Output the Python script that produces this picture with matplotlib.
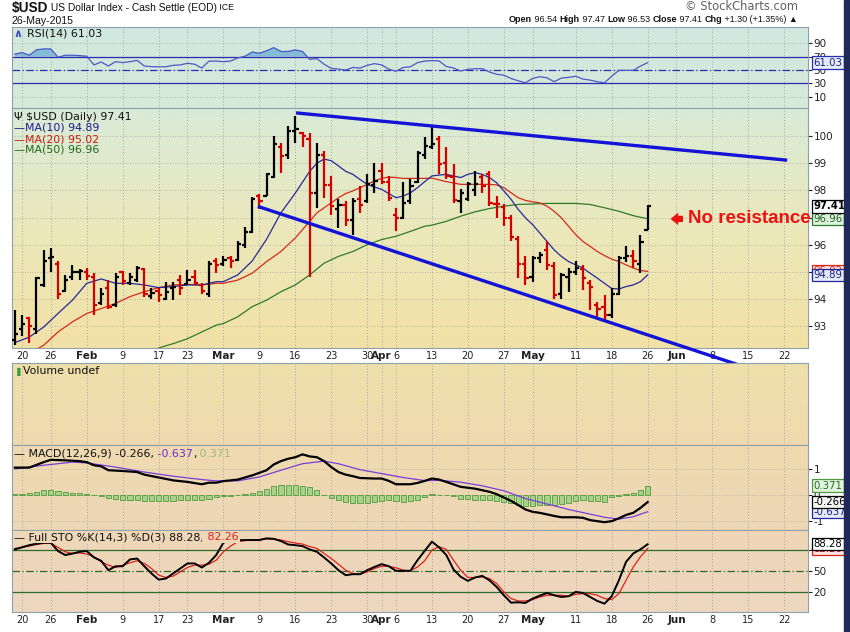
import numpy as np
import pandas as pd
import matplotlib
matplotlib.use("Agg")
import matplotlib.pyplot as plt
from matplotlib.patches import Rectangle

# ---------------- DATA ----------------
start_date = "2015-01-16"
end_date = "2015-06-26"
holidays = ["2015-01-19", "2015-02-16", "2015-04-03", "2015-05-25"]

opens = [92.5, 92.9, 93.3, 92.9, 94.5, 95.5, 95.3, 94.3, 94.8, 95.0,
         95.0, 94.8, 93.85, 94.4, 93.8, 95.0, 94.6, 94.7, 95.1, 94.1,
         94.3, 94.0, 94.4, 94.7, 94.55, 94.8, 94.5, 94.2, 95.4, 95.3,
         95.5, 95.45, 96.0, 96.45, 97.8, 97.8, 98.5, 99.6, 99.3, 100.2,
         100.1, 99.9, 97.9, 99.3, 98.2, 97.3, 97.45, 96.9, 97.7, 97.6,
         98.2, 98.7, 98.3, 97.1, 97.0, 97.6, 98.3, 99.3, 99.6, 99.9,
         99.0, 98.5, 97.6, 97.7, 98.0, 98.5, 98.6, 97.5, 97.4, 97.0,
         96.2, 95.3, 94.8, 95.5, 95.8, 95.2, 94.2, 94.8, 95.0, 95.1,
         94.6, 93.8, 93.7, 93.4, 94.2, 95.5, 95.6, 95.3, 96.54]
highs = [93.6, 93.4, 93.35, 94.83, 95.8, 95.87, 95.4, 94.9, 95.26, 95.1,
         95.13, 94.95, 94.4, 94.7, 94.95, 95.05, 94.95, 95.22, 95.13, 94.4,
         94.4, 94.64, 94.64, 94.9, 95.07, 95.07, 94.58, 95.4, 95.5, 95.57,
         95.6, 96.12, 96.64, 97.75, 97.88, 98.65, 100.0, 99.73, 100.38, 100.75,
         100.14, 100.1, 99.76, 99.46, 98.53, 97.67, 97.6, 97.73, 98.16, 98.59,
         99.02, 98.99, 98.53, 97.36, 98.3, 98.4, 99.46, 99.95, 100.32, 100.01,
         99.58, 98.96, 98.04, 98.32, 98.72, 98.6, 98.72, 97.79, 97.48, 97.11,
         96.31, 95.57, 95.57, 95.75, 96.12, 95.38, 94.95, 95.13, 95.4, 95.26,
         94.7, 93.9, 94.15, 94.4, 95.57, 95.94, 95.81, 96.37, 97.47]
lows = [92.3, 92.65, 92.4, 92.73, 94.46, 95.0, 94.0, 94.27, 94.7, 94.7,
        94.7, 93.4, 93.78, 93.63, 93.7, 94.5, 94.52, 94.64, 94.08, 94.0,
        93.9, 93.96, 93.96, 94.15, 94.52, 94.52, 94.2, 94.08, 94.95, 95.2,
        95.14, 95.4, 95.88, 96.43, 97.33, 97.79, 98.47, 98.65, 99.15, 99.76,
        99.58, 94.8, 97.36, 97.73, 97.11, 96.6, 96.68, 96.37, 97.17, 97.54,
        97.91, 98.25, 97.6, 96.49, 96.95, 97.48, 98.28, 99.15, 99.52, 98.59,
        98.4, 97.54, 97.17, 97.6, 97.79, 97.91, 97.42, 96.99, 96.68, 96.12,
        94.79, 94.52, 94.64, 95.32, 95.07, 94.02, 94.02, 94.27, 94.89, 94.33,
        93.59, 93.28, 93.22, 93.3, 94.15, 95.38, 95.14, 94.95, 96.53]
closes = [92.7, 93.1, 93.0, 94.77, 95.4, 95.55, 94.2, 94.7, 95.0, 95.05,
          94.85, 93.8, 94.2, 93.7, 94.8, 94.65, 94.83, 95.13, 94.18, 94.22,
          94.15, 94.27, 94.45, 94.4, 94.7, 94.6, 94.3, 95.3, 95.27, 95.45,
          95.4, 96.02, 96.45, 97.7, 97.6, 98.6, 99.7, 99.27, 100.2, 100.25,
          100.0, 97.9, 99.3, 98.2, 97.42, 97.45, 96.9, 97.6, 97.45, 98.22,
          98.35, 98.3, 97.73, 96.99, 97.55, 98.16, 99.36, 99.64, 99.7, 98.96,
          98.53, 97.65, 97.9, 98.22, 98.25, 98.15, 97.54, 97.48, 97.0, 96.3,
          95.3, 94.77, 95.5, 95.63, 95.26, 94.15, 94.88, 95.0, 95.13, 94.77,
          94.45, 93.65, 93.4, 94.2, 95.5, 95.6, 95.4, 96.11, 97.41]

ma10_idx = [0, 2, 4, 6, 8, 10, 12, 14, 16, 18, 20, 22, 24, 26, 28, 29, 31, 33, 35, 37,
            39, 41, 42, 43, 44, 45, 46, 47, 48, 49, 50, 51, 52, 53, 54, 55, 56, 57, 58,
            60, 62, 63, 64, 65, 66, 67, 68, 69, 70, 71, 72, 73, 74, 75, 76, 77, 78, 79,
            80, 81, 82, 83, 84, 85, 86, 87, 88]
ma10_val = [92.4, 92.6, 92.97, 93.47, 93.96, 94.58, 94.74, 94.58, 94.58, 94.52, 94.42,
            94.46, 94.52, 94.52, 94.64, 94.64, 94.89, 95.4, 96.2, 97.17, 97.9, 98.7, 99.0,
            99.15, 99.09, 98.9, 98.7, 98.59, 98.4, 98.22, 98.12, 98.04, 97.88, 97.73,
            97.79, 97.91, 98.1, 98.32, 98.53, 98.59, 98.47, 98.59, 98.65, 98.59, 98.47,
            98.28, 97.98, 97.67, 97.3, 96.99, 96.74, 96.43, 96.12, 95.81, 95.57, 95.38,
            95.26, 95.14, 94.95, 94.77, 94.58, 94.39, 94.37, 94.46, 94.52, 94.64, 94.89]
ma20_idx = [3, 4, 6, 8, 10, 12, 14, 16, 18, 20, 22, 24, 26, 28, 29, 31, 33, 35, 37, 39,
            41, 42, 43, 44, 45, 46, 47, 48, 49, 50, 51, 52, 53, 54, 55, 56, 57, 58, 60,
            62, 64, 66, 67, 68, 69, 70, 71, 72, 73, 74, 75, 76, 77, 78, 79, 80, 81, 82,
            83, 84, 85, 86, 87, 88]
ma20_val = [92.15, 92.3, 92.79, 93.16, 93.47, 93.65, 93.84, 94.09, 94.27, 94.42, 94.52,
            94.54, 94.52, 94.58, 94.58, 94.7, 94.95, 95.38, 95.75, 96.25, 96.86, 97.17,
            97.36, 97.54, 97.73, 97.88, 97.98, 98.1, 98.22, 98.35, 98.44, 98.49, 98.47,
            98.44, 98.44, 98.44, 98.44, 98.45, 98.32, 98.22, 98.22, 98.22, 98.2, 98.1,
            97.91, 97.73, 97.63, 97.58, 97.54, 97.42, 97.23, 96.99, 96.68, 96.37, 96.12,
            95.94, 95.75, 95.6, 95.47, 95.38, 95.26, 95.14, 95.05, 95.02]
ma50_idx = [20, 22, 24, 26, 28, 29, 31, 33, 35, 37, 39, 41, 43, 45, 47, 49, 51, 53, 55,
            57, 58, 60, 62, 64, 66, 68, 70, 72, 74, 76, 78, 80, 82, 84, 86, 87, 88]
ma50_val = [92.2, 92.36, 92.54, 92.79, 93.04, 93.1, 93.35, 93.72, 93.96, 94.27, 94.52,
            94.89, 95.32, 95.57, 95.75, 96.0, 96.19, 96.31, 96.49, 96.68, 96.72, 96.86,
            97.05, 97.21, 97.33, 97.42, 97.48, 97.5, 97.52, 97.52, 97.52, 97.48, 97.36,
            97.23, 97.07, 97.01, 96.96]

rsi = [73.8, 76, 72, 80, 81.4, 81.4, 69, 72, 72, 71.4, 70.5, 57.6, 62, 56, 62.4, 61,
       62.4, 64.3, 56, 55, 54.8, 54.8, 57, 57.6, 60, 58.6, 52.9, 63.3, 63.3, 62.4, 63.3,
       68, 70.5, 76.7, 75, 78.6, 83.3, 77.6, 77.6, 80, 77.6, 65.7, 67, 58.6, 52.4, 51.4,
       50, 53.8, 52.9, 57, 59.5, 57.6, 51.4, 48, 53.8, 54.8, 61, 63.3, 64, 63.5, 55.3,
       53, 48.5, 51, 52, 52, 47, 43.7, 42.3, 37.4, 34, 31, 37.4, 40, 38.4, 32.6, 38, 39,
       40.8, 36.5, 35, 32.6, 31, 40.8, 49.5, 49.5, 49.5, 55.8, 61.03]

macd_idx = [0, 2, 4, 5, 7, 9, 10, 11, 12, 13, 15, 17, 18, 20, 22, 24, 26, 27, 28, 29, 31,
            33, 35, 36, 37, 38, 39, 40, 41, 42, 43, 44, 45, 46, 47, 48, 50, 51, 52, 53,
            55, 56, 57, 58, 59, 60, 62, 64, 66, 67, 68, 69, 70, 71, 72, 73, 75, 76, 78,
            79, 80, 81, 82, 83, 84, 85, 86, 87, 88]
macd_val = [1.06, 1.06, 1.27, 1.36, 1.34, 1.31, 1.27, 1.15, 1.11, 0.96, 0.93, 0.89, 0.79,
            0.68, 0.57, 0.51, 0.42, 0.48, 0.48, 0.54, 0.60, 0.76, 0.96, 1.18, 1.31, 1.40,
            1.46, 1.57, 1.49, 1.46, 1.31, 1.08, 0.89, 0.79, 0.73, 0.66, 0.64, 0.64, 0.55,
            0.42, 0.42, 0.47, 0.55, 0.64, 0.60, 0.51, 0.32, 0.25, 0.13, 0.04, -0.09,
            -0.22, -0.38, -0.55, -0.64, -0.68, -0.80, -0.85, -0.85, -0.87, -0.96, -1.0,
            -1.04, -1.0, -0.89, -0.76, -0.68, -0.49, -0.266]
signal_idx = [0, 4, 8, 10, 14, 18, 22, 26, 28, 31, 34, 37, 40, 43, 45, 48, 51, 54, 57, 59,
              62, 65, 68, 71, 74, 77, 80, 82, 84, 86, 88]
signal_val = [1.01, 1.15, 1.27, 1.24, 1.08, 0.89, 0.73, 0.60, 0.55, 0.55, 0.70, 0.96,
              1.21, 1.31, 1.21, 0.98, 0.83, 0.68, 0.56, 0.57, 0.50, 0.36, 0.17, -0.13,
              -0.34, -0.55, -0.73, -0.85, -0.92, -0.83, -0.637]
hist = [0.05, 0.06, 0.09, 0.14, 0.18, 0.20, 0.15, 0.11, 0.09, 0.08, 0.05, 0.01, -0.05,
        -0.10, -0.14, -0.18, -0.20, -0.20, -0.23, -0.24, -0.24, -0.24, -0.23, -0.20,
        -0.20, -0.18, -0.18, -0.14, -0.08, -0.05, -0.04, 0.01, 0.05, 0.09, 0.15, 0.24,
        0.37, 0.39, 0.39, 0.39, 0.34, 0.31, 0.18, 0.01, -0.10, -0.20, -0.27, -0.31,
        -0.31, -0.31, -0.27, -0.23, -0.20, -0.23, -0.27, -0.24, -0.18, -0.08, 0.05,
        0.01, -0.01, -0.05, -0.14, -0.14, -0.18, -0.20, -0.20, -0.24, -0.27, -0.31,
        -0.39, -0.43, -0.43, -0.39, -0.39, -0.36, -0.33, -0.31, -0.23, -0.20, -0.23,
        -0.23, -0.27, -0.08, -0.03, 0.05, 0.10, 0.18, 0.371]

sto_k = [81, 84, 87, 89, 90.5, 90.5, 78.6, 73, 75, 77.6, 78.6, 69.5, 64.8, 51.4, 57, 57,
         66.7, 68, 57, 46.7, 38, 39.5, 46.7, 53.8, 61, 61, 55.2, 62, 73, 90.5, 94, 94,
         94.3, 94.3, 94.3, 96.7, 96, 92.9, 88, 87, 85.7, 81, 77.6, 69.5, 61, 51.4, 44.3,
         45.7, 45.7, 51.4, 56, 60, 57, 50.5, 50.5, 50.5, 65.7, 79, 92, 83.8, 72.9, 52.4,
         42, 36.2, 41, 43.3, 37, 27.6, 15.7, 5.2, 5.7, 4.8, 11, 15.2, 19, 15.7, 13.3,
         14.3, 20.5, 19, 13.3, 7.6, 3.8, 14.3, 37, 63.3, 75.2, 81, 88.28]
sto_d = [82.4, 84, 85.7, 88, 89.5, 89.5, 83.8, 77.6, 75.2, 76, 74.3, 70.5, 63.3, 58.6,
         55.2, 58.6, 61.9, 64.8, 61, 53.8, 44.3, 41, 42.9, 49, 55.2, 58.6, 58.6, 60,
         65.7, 77.6, 85.7, 92, 93.5, 94.3, 95, 95.7, 95.7, 94.3, 92, 90, 88.6, 85, 82.4,
         75.2, 68, 60, 51.4, 46.7, 45.7, 49, 53.8, 57, 57, 54.8, 51.4, 50.5, 56, 64.8,
         80, 84.8, 81, 65.7, 51.4, 41, 41, 41.9, 39.5, 32.4, 20.5, 11, 7.6, 7.6, 9.5,
         13.3, 15.7, 15.7, 15.7, 14.3, 17.1, 18, 18, 15.7, 11, 9.5, 18, 37, 56, 70.5,
         82.26]

# hand-drawn trend lines (bar position, price)
trend_upper_x = [39.1, 107.4]
trend_upper_y = [100.85, 99.11]
trend_lower_x = [33.8, 100.4]
trend_lower_y = [97.41, 91.6]
note_text = "No resistance"
note_arrow_x = [93.3, 90.8]
note_y = 96.95

tick_dates = ["2015-01-20", "2015-01-26", "2015-02-02", "2015-02-09", "2015-02-17",
              "2015-02-23", "2015-03-02", "2015-03-09", "2015-03-16", "2015-03-23",
              "2015-03-30", "2015-04-01", "2015-04-06", "2015-04-13", "2015-04-20",
              "2015-04-27", "2015-05-01", "2015-05-11", "2015-05-18", "2015-05-26",
              "2015-06-01", "2015-06-08", "2015-06-15", "2015-06-22"]
tick_labels = ["20", "26", "Feb", "9", "17", "23", "Mar", "9", "16", "23", "30", "Apr",
               "6", "13", "20", "27", "May", "11", "18", "26", "Jun", "8", "15", "22"]

# ---------------- SETUP ----------------
W, H = 850, 632
fig = plt.figure(figsize=(W / 100, H / 100), dpi=100)
fig.patch.set_facecolor("white")

days = pd.bdate_range(start_date, end_date)
days = days[~days.isin(pd.to_datetime(holidays))]
pos = {d: i for i, d in enumerate(days)}
tick_pos = [pos[pd.Timestamp(d)] for d in tick_dates]
n = len(closes)
xs = np.arange(n)

X0, X1 = 12, 808
XL = (-0.4, 110.3)

stops_y = [27, 108, 150, 230, 348, 363, 445, 530, 612]
stops_c = ["#d0e8e0", "#d8ead8", "#dfeace", "#ebe8bb", "#f2e1a5", "#f0e0aa", "#efdab0",
           "#eed7b6", "#eed6c2"]
stops_rgb = np.array([matplotlib.colors.to_rgb(c) for c in stops_c])

def bgcol(y):
    return np.array([np.interp(y, stops_y, stops_rgb[:, k]) for k in range(3)])

def make_ax(ytop, ybot):
    ax = fig.add_axes([X0 / W, 1 - ybot / H, (X1 - X0) / W, (ybot - ytop) / H])
    ys = np.linspace(ytop, ybot, 80)
    img = np.array([bgcol(y) for y in ys])[:, None, :]
    ax.imshow(img, extent=[0, 1, 0, 1], transform=ax.transAxes, aspect="auto",
              zorder=-10, interpolation="bilinear")
    for s in ax.spines.values():
        s.set_color("#8fa0a8")
        s.set_linewidth(0.8)
    ax.set_xlim(*XL)
    ax.set_xticks(tick_pos)
    ax.tick_params(axis="x", length=0, labelsize=7, pad=2, colors="#222222")
    ax.xaxis.grid(True, ls=(0, (1, 2)), color="#a8a8a0", lw=0.7)
    ax.yaxis.tick_right()
    ax.tick_params(axis="y", length=3, width=0.8, labelsize=7.5, pad=1, colors="#222222",
                   direction="out")
    ax.set_axisbelow(True)
    return ax

def set_xlabels(ax, show):
    if show:
        ax.set_xticklabels(tick_labels)
        for lab in ax.get_xticklabels():
            if lab.get_text() in ("Feb", "Mar", "Apr", "May", "Jun"):
                lab.set_fontweight("bold")
                lab.set_fontsize(7.5)
    else:
        ax.set_xticklabels([])

def tag(ax, val, text, ec, fc, tc, bold=False, z=6):
    ax.annotate(text, xy=(1, val), xycoords=("axes fraction", "data"), xytext=(4, 0),
                textcoords="offset points", ha="left", va="center", fontsize=7.3,
                color=tc, fontweight="bold" if bold else "normal", zorder=z,
                annotation_clip=False,
                bbox=dict(boxstyle="square,pad=0.12", fc=fc, ec=ec, lw=0.9))

renderer = fig.canvas.get_renderer()

def seq_text(x_px, y_px, pieces, size=7.9, family="DejaVu Sans"):
    x = x_px
    for s, kw in pieces:
        opts = dict(ha="left", va="center", fontsize=size, family=family, zorder=20)
        opts.update(kw)
        t = fig.text(x / W, 1 - y_px / H, s, **opts)
        x += t.get_window_extent(renderer).width
    return x

# ---------------- RSI ----------------
ax_r = make_ax(27, 108)
ax_r.set_ylim(-6.5, 114)
ax_r.set_yticks([10, 30, 50, 70, 90])
ax_r.yaxis.grid(True, ls=(0, (1, 2)), color="#a8b0a8", lw=0.6)
set_xlabels(ax_r, False)
rsi_a = np.array(rsi)
ax_r.fill_between(xs, rsi_a, 70, where=rsi_a >= 70, interpolate=True, color="#6aaed6",
                  alpha=0.75, lw=0, zorder=2)
ax_r.fill_between(xs, rsi_a, 30, where=rsi_a <= 30, interpolate=True, color="#6aaed6",
                  alpha=0.75, lw=0, zorder=2)
ax_r.axhline(70, color="#2a2ab0", lw=0.9, zorder=2)
ax_r.axhline(30, color="#2a2ab0", lw=0.9, zorder=2)
ax_r.axhline(50, color="#2a2ab0", lw=0.9, ls=(0, (6, 2, 1, 2)), zorder=2)
ax_r.plot(xs, rsi_a, color="#4a58c8", lw=0.9, zorder=3)
tag(ax_r, rsi[-1], f"{rsi[-1]:.2f}", "#2a2ab0", "#e4eefa", "#1a1a80")

# ---------------- PRICE ----------------
ax_p = make_ax(108, 348)
ax_p.set_ylim(92.2, 101.03)
ax_p.set_yticks([93, 94, 95, 96, 97, 98, 99, 100])
ax_p.set_yticklabels(["93", "94", "", "96", "", "98", "99", "100"])
ax_p.yaxis.grid(True, ls=(0, (1, 2)), color="#a8a8a0", lw=0.6)
set_xlabels(ax_p, True)
ax_p.plot(ma50_idx, ma50_val, color="#2f7a2a", lw=0.9, zorder=2)
ax_p.plot(ma20_idx, ma20_val, color="#d42a1a", lw=0.9, zorder=2)
ax_p.plot(ma10_idx, ma10_val, color="#26289a", lw=0.9, zorder=2)
cl = np.array(closes)
prev = np.r_[cl[0] - 1, cl[:-1]]
cols = np.where(cl < prev, "#d40000", "#000000")
ax_p.vlines(xs, lows, highs, colors=cols, lw=1.6, zorder=3)
ax_p.hlines(opens, xs - 0.45, xs, colors=cols, lw=1.6, zorder=3)
ax_p.hlines(closes, xs, xs + 0.45, colors=cols, lw=1.6, zorder=3)
ax_p.plot(trend_upper_x, trend_upper_y, color="#1414d8", lw=2.4, zorder=4,
          solid_capstyle="butt")
ax_p.plot(trend_lower_x, trend_lower_y, color="#1414d8", lw=2.4, zorder=4, clip_on=False,
          solid_capstyle="butt")
ax_p.annotate("", xy=(note_arrow_x[1], note_y), xytext=(note_arrow_x[0], note_y),
              arrowprops=dict(arrowstyle="simple,head_length=0.55,head_width=0.9,tail_width=0.45",
                              color="#ee1111", lw=0), zorder=7)
tag(ax_p, 95.02, "95.02", "#d42a1a", "#fbe4e0", "#d42a1a", z=5)
tag(ax_p, 94.89, "94.89", "#26289a", "#e4eaf8", "#1a1a80", z=6)
tag(ax_p, 96.96, "96.96", "#2f7a2a", "#ddf2dc", "#1e5e1e", z=6)
tag(ax_p, closes[-1], f"{closes[-1]:.2f}", "#000000", "#ffffff", "#000000", bold=True, z=7)
ax_p.text(note_arrow_x[0] + 0.35, note_y, note_text, color="#ee1111", fontsize=13.5,
          fontweight="bold", family="Liberation Sans", va="center", ha="left", zorder=8)

# ---------------- VOLUME ----------------
ax_v = make_ax(363, 445)
ax_v.set_ylim(0, 1)
ax_v.set_yticks([])
set_xlabels(ax_v, False)

# ---------------- MACD ----------------
ax_m = make_ax(445, 530)
ax_m.set_ylim(-1.34, 1.93)
ax_m.set_yticks([-1, 0, 1])
ax_m.set_yticklabels(["-1", "0", "1"])
ax_m.yaxis.grid(True, ls=(0, (1, 2)), color="#b0a8a0", lw=0.5)
set_xlabels(ax_m, False)
ax_m.bar(xs, hist, width=0.72, color="#a6d28a", edgecolor="#4f9a3c", lw=0.6, zorder=2)
ax_m.plot(signal_idx, signal_val, color="#7a3ed8", lw=0.9, zorder=3)
ax_m.plot(macd_idx, macd_val, color="#000000", lw=1.6, zorder=4)
tag(ax_m, hist[-1], f"{hist[-1]:.3f}", "#4f9a3c", "#dff4dc", "#2a6a2a")
tag(ax_m, -0.637, "-0.637", "#26289a", "#e4eaf8", "#1a1a80")
tag(ax_m, macd_val[-1], f"{macd_val[-1]:.3f}", "#000000", "#f4f4f4", "#000000")

# ---------------- STO ----------------
ax_s = make_ax(530, 612)
ax_s.set_ylim(-8.1, 108.6)
ax_s.set_yticks([20, 50, 80])
ax_s.set_yticklabels(["20", "50", ""])
set_xlabels(ax_s, True)
ax_s.axhline(80, color="#2b6a2b", lw=0.9, zorder=2)
ax_s.axhline(20, color="#2b6a2b", lw=0.9, zorder=2)
ax_s.axhline(50, color="#2b6a2b", lw=0.9, ls=(0, (6, 2, 1, 2)), zorder=2)
ax_s.plot(xs, sto_d, color="#e0201a", lw=0.9, zorder=3)
ax_s.plot(xs, sto_k, color="#000000", lw=1.4, zorder=4)
tag(ax_s, sto_d[-1], f"{sto_d[-1]:.2f}", "#e0201a", "#fbe4e0", "#c01010", z=5)
tag(ax_s, sto_k[-1], f"{sto_k[-1]:.2f}", "#000000", "#ffffff", "#000000", z=6)

# ---------------- LEGENDS / HEADER ----------------
seq_text(14, 34, [("\u2227 ", dict(color="#3a4ab8", fontweight="bold")),
                  ("RSI(14) 61.03", dict(color="#111111"))])
seq_text(14, 117, [("\u03a8 $USD (Daily) 97.41", dict(color="#111111"))])
seq_text(14, 128, [("\u2014MA(10) 94.89", dict(color="#1a1a90"))])
seq_text(14, 139, [("\u2014MA(20) 95.02", dict(color="#cc1a10"))])
seq_text(14, 150, [("\u2014MA(50) 96.96", dict(color="#1e6a1e"))])
seq_text(14, 371, [("\u2590 ", dict(color="#3a9a3a", fontsize=6)),
                   ("Volume undef", dict(color="#111111"))])
seq_text(14, 454, [("\u2014 MACD(12,26,9) -0.266,", dict(color="#111111")),
                   (" -0.637", dict(color="#6a2ed0")),
                   (",", dict(color="#111111")),
                   (" 0.371", dict(color="#9cbc7c"))])
bgc = matplotlib.colors.to_hex(bgcol(537))
bb = dict(fc=bgc, ec="none", pad=1.0)
seq_text(14, 537, [("\u2014 Full STO %K(14,3) %D(3) 88.28,", dict(color="#111111", bbox=bb)),
                   (" 82.26", dict(color="#e0201a", bbox=bb))])

seq_text(12, 8, [("$USD", dict(color="#111111", fontweight="bold", fontsize=9.8)),
                 (" US Dollar Index - Cash Settle (EOD)", dict(color="#111111")),
                 (" ICE", dict(color="#111111", fontsize=6.3))], size=7.4,
         family="Liberation Sans")
seq_text(12, 21, [("26-May-2015", dict(color="#111111"))], size=7.6,
         family="Liberation Sans")
fig.text(798 / W, 1 - 6 / H, "\u00a9 StockCharts.com", ha="right", va="center",
         fontsize=8.3, color="#606060", family="DejaVu Sans")

hdr = [("Open", True), (" 96.54 ", False), ("High", True), (" 97.47 ", False),
       ("Low", True), (" 96.53 ", False), ("Close", True), (" 97.41 ", False),
       ("Chg", True), (" +1.30 (+1.35%) \u25b2", False)]
hsize = 6.5
tmp = [fig.text(0, 0, s, fontsize=hsize, family="Liberation Sans",
                fontweight="bold" if b else "normal") for s, b in hdr]
tot = sum(t.get_window_extent(renderer).width for t in tmp)
for t in tmp:
    t.remove()
seq_text(798 - tot, 20, [(s, dict(color="#111111", fontweight="bold" if b else "normal"))
                         for s, b in hdr], size=hsize, family="Liberation Sans")

fig.patches.append(Rectangle((844 / W, 0), 6 / W, 1, transform=fig.transFigure,
                             color="#1f2a5a", zorder=0))

fig.savefig("out.png", dpi=100)
